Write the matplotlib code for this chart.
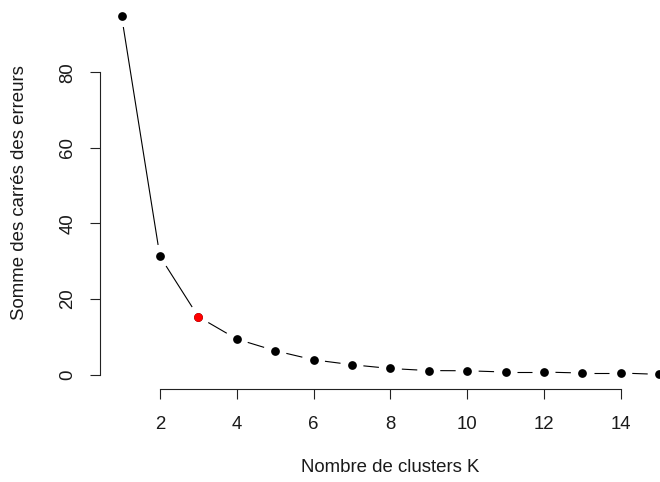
import matplotlib
matplotlib.use("Agg")
import matplotlib.pyplot as plt
import numpy as np

plt.rcParams['font.family'] = ['Liberation Sans', 'DejaVu Sans']

# Elbow curve: within-cluster sum of squares for K = 1..15
k_values = list(range(1, 16))
sse_values = [95.0, 31.3, 15.3, 9.4, 6.3, 3.9, 2.6, 1.6, 1.05, 1.0, 0.66, 0.66, 0.4, 0.4, 0.05]
chosen_k = 3
x_ticks = [2, 4, 6, 8, 10, 12, 14]
y_ticks = [0, 20, 40, 60, 80]
x_label = "Nombre de clusters K"
y_label = "Somme des carrés des erreurs"

W, H = 660, 482
fig = plt.figure(figsize=(W / 100, H / 100), dpi=100)

# plot region (pixels): left 100, right 680.7, bottom edge at 388.7, top at 1.3
left, right, top, bottom = 100.0, 680.7, 1.3, 388.7
ax = fig.add_axes([left / W, (H - bottom) / H, (right - left) / W, (bottom - top) / H])

x = np.array(k_values, dtype=float)
y = np.array(sse_values, dtype=float)
xr = x.max() - x.min()
yr = y.max() - y.min()
ax.set_xlim(x.min() - 0.04 * xr, x.max() + 0.04 * xr)
ax.set_ylim(y.min() - 0.04 * yr, y.max() + 0.04 * yr)

# line segments with gaps around each point
gap = 11.5  # pixels
pts = ax.transData.transform(np.column_stack([x, y]))
inv = ax.transData.inverted()
for i in range(len(pts) - 1):
    p0, p1 = pts[i], pts[i + 1]
    d = p1 - p0
    L = np.hypot(*d)
    if L <= 2 * gap:
        continue
    u = d / L
    a = inv.transform(p0 + u * gap)
    b = inv.transform(p1 - u * gap)
    ax.plot([a[0], b[0]], [a[1], b[1]], color='black', lw=0.8, solid_capstyle='butt',
            clip_on=False)

ax.plot(x, y, linestyle='none', marker='o', markersize=6.3, color='black',
        markeredgewidth=0, clip_on=False)
idx = k_values.index(chosen_k)
ax.plot([x[idx]], [y[idx]], linestyle='none', marker='o', markersize=6.3, color='red',
        markeredgewidth=0, clip_on=False, zorder=5)

for s in ['top', 'right']:
    ax.spines[s].set_visible(False)
ax.spines['left'].set_bounds(y_ticks[0], y_ticks[-1])
ax.spines['bottom'].set_bounds(x_ticks[0], x_ticks[-1])
for s in ['left', 'bottom']:
    ax.spines[s].set_linewidth(0.8)
    ax.spines[s].set_color('#222222')

ax.set_xticks(x_ticks)
ax.set_yticks(y_ticks)
ax.tick_params(axis='both', length=7, width=0.8, color='#222222', labelsize=13.4,
               labelcolor='#1a1a1a')
ax.tick_params(axis='x', pad=13)
ax.tick_params(axis='y', pad=10)
for lab in ax.get_yticklabels():
    lab.set_rotation(90)
    lab.set_va('center')

fig.text(390 / W, 1 - 467 / H, x_label, ha='center', va='center', fontsize=13.4, color='#1a1a1a')
fig.text(20 / W, 1 - 193 / H, y_label, ha='center', va='center', rotation=90,
         fontsize=13.4, color='#1a1a1a')

fig.savefig("out.png", dpi=100)
